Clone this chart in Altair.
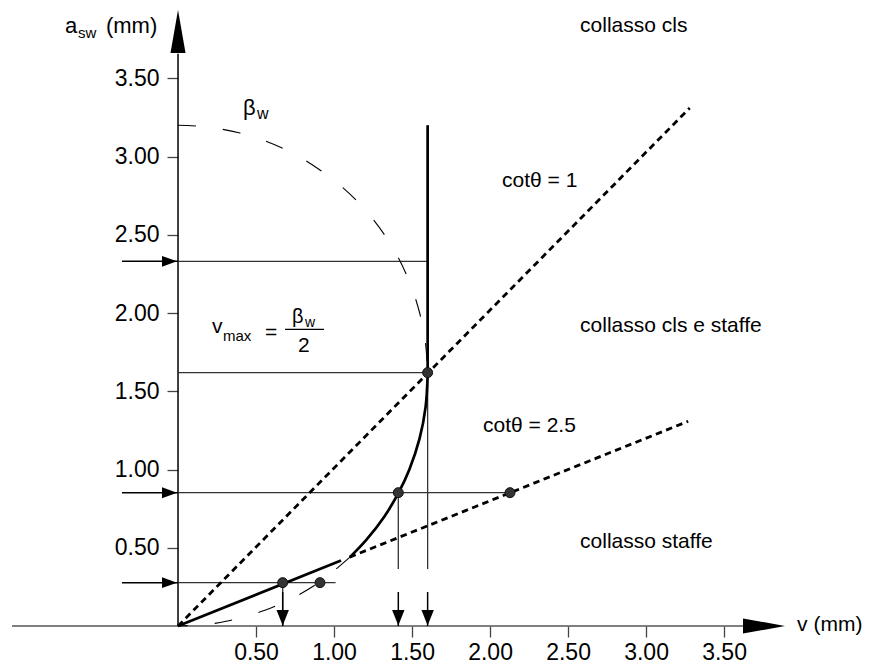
import altair as alt
import pandas as pd

FONT = "Liberation Sans"

# ---------------- values ----------------
x_ticks = [0.5, 1.0, 1.5, 2.0, 2.5, 3.0, 3.5]
y_ticks = [0.5, 1.0, 1.5, 2.0, 2.5, 3.0, 3.5]

# beta_w circle: upper dashed branch (v, a_sw)
arc_up_v = [0.0, 0.179, 0.397, 0.557, 0.775, 1.058, 1.249, 1.386, 1.483, 1.549, 1.587, 1.6]
arc_up_a = [3.2, 3.19, 3.15, 3.1, 3.0, 2.8, 2.6, 2.4, 2.2, 2.0, 1.8, 1.6]
# solid branch between cot=2.5 and cot=1
arc_mid_v = [1.102, 1.207, 1.323, 1.413, 1.483, 1.549, 1.587, 1.6]
arc_mid_a = [0.44, 0.55, 0.7, 0.85, 1.0, 1.2, 1.4, 1.6]
# lower dashed branch
arc_lo_v = [1.102, 0.933, 0.775, 0.557, 0.308, 0.179, 0.0]
arc_lo_a = [0.44, 0.3, 0.2, 0.1, 0.03, 0.01, 0.0]

# cot(theta) lines
cot_dash_v0 = [0.0, 1.10]
cot_dash_a0 = [0.0, 0.44]
cot_dash_v1 = [3.28, 3.27]
cot_dash_a1 = [3.31, 1.308]
cot25_solid_v = [0.0, 1.045]
cot25_solid_a = [0.0, 0.418]
vmax_line_v = [1.6, 1.6]
vmax_line_a = [1.6, 3.2]

# projection lines
h_a = [2.33, 1.619, 0.852, 0.277]
h_v_end = [1.6, 1.6, 2.128, 1.01]
vert_v = [1.412, 1.6, 0.671]
vert_top = [0.852, 1.619, 0.277]
vert_bottom = [0.364, 0.364, 0.0]

# points
dot_v = [0.671, 0.91, 1.412, 2.128, 1.6]
dot_a = [0.277, 0.277, 0.852, 0.852, 1.619]

# arrows
left_arrow_a = [2.33, 0.852, 0.277]
down_arrow_v = [0.671, 1.412, 1.6]

# axis lines (data coordinates)
xaxis_line = [-1.064, 3.622]
yaxis_line = [0.0, 3.657]

# annotations
ann_text = ["a", "sw", "(mm)", "β", "w", "v", "max", "=", "β", "w", "2",
            "collasso cls", "cotθ = 1", "collasso cls e staffe", "cotθ = 2.5",
            "collasso staffe", "v (mm)"]
ann_v = [-0.724, -0.641, -0.462, 0.417, 0.506, 0.218, 0.288, 0.558, 0.731, 0.814, 0.769,
         2.577, 2.077, 2.577, 1.955, 2.577, 3.968]
ann_a = [3.789, 3.757, 3.789, 3.265, 3.24, 1.872, 1.821, 1.832, 1.936, 1.911, 1.753,
         3.796, 2.805, 1.879, 1.240, 0.498, -0.032]
ann_size = [22, 15, 22, 22, 16, 21, 15, 21, 20, 14, 21, 21, 21, 21, 21, 21, 21]

# ---------------- chart ----------------
xs = alt.Scale(domain=[-1.141, 4.429], nice=False, zero=False)
ys = alt.Scale(domain=[0.0, 4.0], nice=False, zero=False)

x_axis = alt.Axis(values=x_ticks, format=".2f", domain=False, grid=False, tickSize=11,
                  tickWidth=1.3, tickColor="#444", labelFont=FONT, labelFontSize=23,
                  labelColor="black", labelPadding=4, title=None, labelFlush=False,
                  labelOverlap=False)
y_axis = alt.Axis(values=y_ticks, format=".2f", domain=False, grid=False, tickSize=11,
                  tickWidth=1.3, tickColor="#444", labelFont=FONT, labelFontSize=23,
                  labelColor="black", labelPadding=8, title=None, offset=-178,
                  labelFlush=False, labelOverlap=False)


def X(f):
    return alt.X(f, type="quantitative", scale=xs, axis=x_axis)


def Y(f):
    return alt.Y(f, type="quantitative", scale=ys, axis=y_axis)


layers = []

# x axis line
df = pd.DataFrame({"v": [xaxis_line[0]], "v2": [xaxis_line[1]], "a": [0.0]})
layers.append(alt.Chart(df).mark_rule(color="#555", strokeWidth=1.5).encode(
    x=X("v"), x2="v2", y=Y("a")))
# y axis line
df = pd.DataFrame({"v": [0.0], "a": [yaxis_line[0]], "a2": [yaxis_line[1]]})
layers.append(alt.Chart(df).mark_rule(color="black", strokeWidth=1.5).encode(
    x=X("v"), y=Y("a"), y2="a2"))

# horizontal projection lines
df = pd.DataFrame({"v": [0.0] * len(h_a), "v2": h_v_end, "a": h_a})
layers.append(alt.Chart(df).mark_rule(color="#333", strokeWidth=1.3).encode(
    x=X("v"), x2="v2", y=Y("a")))
# vertical projection lines
df = pd.DataFrame({"v": vert_v, "a": vert_top, "a2": vert_bottom})
layers.append(alt.Chart(df).mark_rule(color="#333", strokeWidth=1.3).encode(
    x=X("v"), y=Y("a"), y2="a2"))
# left arrow shafts
df = pd.DataFrame({"v": [-0.359] * 3, "v2": [0.0] * 3, "a": left_arrow_a})
layers.append(alt.Chart(df).mark_rule(color="black", strokeWidth=1.5).encode(
    x=X("v"), x2="v2", y=Y("a")))
# down arrow shafts
df = pd.DataFrame({"v": down_arrow_v, "a": [0.217] * 3, "a2": [0.0] * 3})
layers.append(alt.Chart(df).mark_rule(color="black", strokeWidth=1.5).encode(
    x=X("v"), y=Y("a"), y2="a2"))

# dotted cot lines
df = pd.DataFrame({"v": cot_dash_v0, "a": cot_dash_a0, "v2": cot_dash_v1, "a2": cot_dash_a1})
layers.append(alt.Chart(df).mark_rule(color="black", strokeWidth=2.8,
                                      strokeDash=[6.5, 4.5]).encode(
    x=X("v"), y=Y("a"), x2="v2", y2="a2"))

# dashed beta_w arcs
for vv, aa in ((arc_up_v, arc_up_a), (arc_lo_v, arc_lo_a)):
    df = pd.DataFrame({"v": vv, "a": aa, "o": list(range(len(vv)))})
    layers.append(alt.Chart(df).mark_line(color="black", strokeWidth=1.1,
                                          strokeDash=[18, 27], interpolate="catmull-rom").encode(
        x=X("v"), y=Y("a"), order="o:Q"))

# solid thick path
df = pd.DataFrame({"v": arc_mid_v, "a": arc_mid_a, "o": list(range(len(arc_mid_v)))})
layers.append(alt.Chart(df).mark_line(color="black", strokeWidth=2.7,
                                      interpolate="catmull-rom").encode(
    x=X("v"), y=Y("a"), order="o:Q"))
df = pd.DataFrame({"v": [cot25_solid_v[0], vmax_line_v[0]], "a": [cot25_solid_a[0], vmax_line_a[0]],
                   "v2": [cot25_solid_v[1], vmax_line_v[1]], "a2": [cot25_solid_a[1], vmax_line_a[1]]})
layers.append(alt.Chart(df).mark_rule(color="black", strokeWidth=2.7).encode(
    x=X("v"), y=Y("a"), x2="v2", y2="a2"))

# dots
df = pd.DataFrame({"v": dot_v, "a": dot_a})
layers.append(alt.Chart(df).mark_point(shape="circle", filled=True, size=100, color="#333",
                                       stroke="#111", strokeWidth=1, opacity=1).encode(
    x=X("v"), y=Y("a")))

# arrow heads
df = pd.DataFrame({"v": [0.0], "a": [3.799]})
layers.append(alt.Chart(df).mark_point(shape="M0,-1L0.35,1L-0.35,1Z", filled=True, size=1849,
                                       color="black", opacity=1, strokeWidth=0).encode(
    x=X("v"), y=Y("a")))
df = pd.DataFrame({"v": [3.756], "a": [0.0]})
layers.append(alt.Chart(df).mark_point(shape="M1,0L-1,-0.36L-1,0.36Z", filled=True, size=1764,
                                       color="black", opacity=1, strokeWidth=0).encode(
    x=X("v"), y=Y("a")))
df = pd.DataFrame({"v": [-0.0545] * 3, "a": left_arrow_a})
layers.append(alt.Chart(df).mark_point(shape="M1,0L-1,-0.73L-1,0.73Z", filled=True, size=225,
                                       color="black", opacity=1, strokeWidth=0).encode(
    x=X("v"), y=Y("a")))
df = pd.DataFrame({"v": down_arrow_v, "a": [0.052] * 3})
layers.append(alt.Chart(df).mark_point(shape="M0,1L-0.8,-1L0.8,-1Z", filled=True, size=240,
                                       color="black", opacity=1, strokeWidth=0).encode(
    x=X("v"), y=Y("a")))

# fraction bar of v_max = beta_w / 2
df = pd.DataFrame({"v": [0.686], "v2": [0.936], "a": [1.896]})
layers.append(alt.Chart(df).mark_rule(color="black", strokeWidth=1.2).encode(
    x=X("v"), x2="v2", y=Y("a")))

# texts
df = pd.DataFrame({"t": ann_text, "v": ann_v, "a": ann_a, "s": ann_size})
layers.append(alt.Chart(df).mark_text(align="left", baseline="alphabetic", font=FONT,
                                      color="black").encode(
    x=X("v"), y=Y("a"), text="t:N", size=alt.Size("s:Q", scale=None, legend=None)))

chart = alt.layer(*layers).properties(
    width=869, height=626,
    autosize=alt.AutoSizeParams(type="none"),
    padding={"left": 0, "top": 0, "right": 0, "bottom": 43},
    background="white",
).configure_view(stroke=None)

chart.save("out.html", embed_options={"renderer": "svg", "actions": False})
